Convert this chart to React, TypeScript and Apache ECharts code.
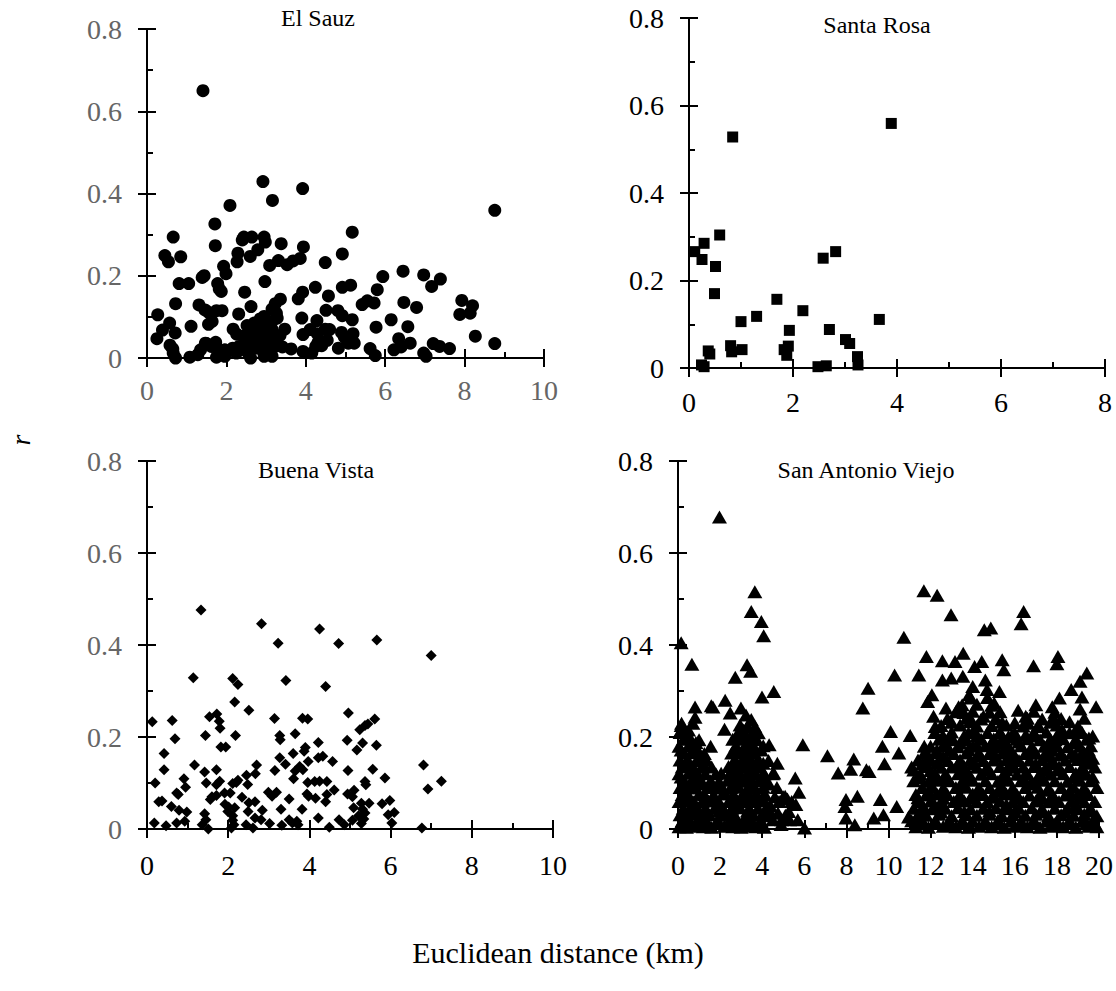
import { useEffect, useRef } from "react";
import * as echarts from "echarts";

type Pt = [number, number];

// Pairwise relatedness (r) against Euclidean distance (km), one list per site.
const elSauz: Pt[] = [
  [1.41,0.650],[2.92,0.429],[3.92,0.412],[3.16,0.383],[2.09,0.371],[8.76,0.359],[1.71,0.326],[5.17,0.306],
  [0.66,0.294],[2.44,0.294],[2.64,0.294],[2.95,0.294],[2.98,0.282],[3.38,0.278],[1.72,0.273],[2.40,0.287],
  [2.79,0.263],[3.94,0.270],[2.60,0.247],[2.29,0.255],[4.92,0.253],[0.45,0.249],[0.54,0.234],[0.85,0.246],
  [2.27,0.234],[3.86,0.242],[3.68,0.236],[3.53,0.227],[3.31,0.237],[3.09,0.225],[4.49,0.232],[1.93,0.223],
  [1.99,0.205],[1.39,0.196],[1.44,0.200],[6.45,0.211],[6.97,0.202],[7.39,0.192],[5.94,0.198],[7.17,0.174],
  [0.81,0.181],[1.05,0.181],[2.97,0.186],[1.78,0.181],[1.82,0.168],[1.87,0.162],[4.24,0.172],[4.92,0.172],
  [5.13,0.177],[5.80,0.166],[3.92,0.160],[3.81,0.144],[2.46,0.160],[4.57,0.151],[3.36,0.143],[7.93,0.140],
  [5.55,0.139],[5.42,0.130],[5.72,0.134],[6.47,0.135],[6.79,0.123],[8.20,0.127],[0.72,0.132],[1.31,0.129],
  [1.46,0.117],[1.55,0.111],[1.75,0.115],[1.89,0.115],[2.62,0.125],[3.23,0.132],[3.15,0.119],[4.51,0.116],
  [4.81,0.115],[4.92,0.103],[0.27,0.105],[2.31,0.107],[7.88,0.106],[8.14,0.109],[3.90,0.097],[5.17,0.093],
  [6.15,0.093],[4.28,0.091],[3.28,0.097],[2.95,0.101],[1.64,0.089],[0.57,0.085],[1.55,0.082],[1.11,0.077],
  [6.57,0.076],[5.77,0.075],[3.47,0.070],[2.17,0.070],[2.52,0.079],[0.39,0.068],[0.71,0.061],[4.49,0.070],
  [4.60,0.069],[4.11,0.069],[4.29,0.059],[3.93,0.057],[4.90,0.062],[5.19,0.059],[8.27,0.053],[4.97,0.051],
  [0.25,0.047],[2.26,0.058],[2.61,0.065],[2.85,0.061],[3.01,0.053],[3.15,0.069],[2.77,0.073],[4.54,0.043],
  [6.34,0.047],[6.63,0.036],[8.76,0.035],[0.58,0.031],[7.21,0.035],[7.37,0.028],[7.62,0.023],[5.62,0.023],
  [6.22,0.020],[6.97,0.012],[7.03,0.004],[5.75,0.006],[6.40,0.027],[3.93,0.016],[4.15,0.012],[4.25,0.028],
  [4.31,0.038],[4.82,0.024],[5.07,0.036],[5.22,0.036],[3.41,0.027],[3.63,0.022],[3.10,0.016],[3.23,0.028],
  [2.92,0.036],[2.79,0.024],[2.61,0.000],[2.52,0.015],[2.32,0.028],[2.16,0.024],[1.96,0.004],[1.75,0.002],
  [1.73,0.038],[1.62,0.028],[1.47,0.036],[1.35,0.020],[1.28,0.008],[1.08,0.002],[0.72,0.000],[0.66,0.012],
  [0.65,0.022],[1.85,0.019],[1.96,0.020],[2.47,0.036],[2.61,0.036],[3.01,0.012],[2.95,0.004],[3.15,0.004],
  [2.25,0.012],[3.01,0.028],[3.11,0.040],[2.88,0.046],[2.80,0.058],[2.72,0.049],[2.43,0.053],[3.19,0.049],
  [3.15,0.089],[3.01,0.081],[3.26,0.109],[2.70,0.085],[2.85,0.095],[3.05,0.065],[2.55,0.045],[3.35,0.055],
  [5.05,0.045],[4.40,0.030],[1.50,0.035]
];

const santaRosa: Pt[] = [
  [0.84,0.528],[3.89,0.559],[0.59,0.304],[0.29,0.285],[0.11,0.266],[0.25,0.248],[0.51,0.232],[0.49,0.170],
  [2.58,0.251],[2.82,0.266],[1.69,0.157],[2.19,0.131],[1.30,0.118],[1.00,0.106],[3.66,0.111],[1.93,0.086],
  [2.70,0.088],[3.01,0.065],[3.09,0.056],[0.80,0.051],[0.82,0.037],[1.02,0.042],[0.37,0.039],[0.40,0.032],
  [1.83,0.042],[1.91,0.050],[1.88,0.029],[3.24,0.026],[3.25,0.007],[0.24,0.007],[0.29,0.003],[2.48,0.003],
  [2.64,0.005]
];

const buenaVista: Pt[] = [
  [1.33,0.476],[2.82,0.446],[4.25,0.435],[3.23,0.404],[4.72,0.403],[5.66,0.411],[7.00,0.377],[1.14,0.329],
  [2.11,0.327],[2.24,0.314],[3.42,0.323],[4.40,0.310],[2.16,0.276],[2.51,0.258],[0.13,0.233],[0.62,0.236],
  [1.54,0.244],[1.72,0.250],[1.78,0.234],[1.80,0.219],[3.14,0.240],[3.83,0.241],[3.96,0.239],[4.96,0.252],
  [5.61,0.239],[5.24,0.216],[5.37,0.225],[5.44,0.228],[0.69,0.196],[1.44,0.203],[2.18,0.203],[1.82,0.178],
  [1.94,0.178],[3.27,0.203],[3.28,0.194],[3.65,0.207],[4.22,0.188],[3.90,0.177],[3.87,0.169],[4.93,0.193],
  [5.31,0.187],[5.65,0.182],[5.17,0.172],[0.42,0.164],[3.60,0.164],[3.27,0.155],[4.22,0.155],[4.33,0.158],
  [3.97,0.147],[4.57,0.147],[1.17,0.139],[2.70,0.139],[6.81,0.139],[3.41,0.141],[3.76,0.136],[3.84,0.129],
  [3.65,0.126],[0.42,0.129],[1.71,0.129],[1.42,0.124],[3.15,0.127],[4.95,0.127],[5.56,0.130],[2.45,0.117],
  [2.67,0.120],[0.91,0.109],[3.61,0.109],[5.86,0.111],[0.20,0.100],[1.46,0.100],[1.79,0.104],[2.20,0.101],
  [2.24,0.106],[2.48,0.097],[3.96,0.101],[4.13,0.103],[4.25,0.104],[4.43,0.103],[5.37,0.103],[7.25,0.104],
  [0.95,0.091],[1.71,0.096],[5.39,0.096],[2.11,0.099],[6.92,0.087],[4.61,0.085],[5.10,0.084],[0.73,0.078],
  [0.77,0.075],[1.91,0.078],[2.05,0.078],[2.99,0.080],[3.19,0.080],[3.08,0.071],[3.94,0.076],[3.98,0.071],
  [4.94,0.076],[5.06,0.070],[4.43,0.075],[1.71,0.073],[1.60,0.070],[1.56,0.064],[2.34,0.069],[4.15,0.067],
  [0.29,0.059],[0.37,0.061],[3.50,0.065],[4.40,0.059],[5.98,0.062],[2.51,0.057],[2.66,0.059],[5.28,0.056],
  [5.47,0.056],[5.79,0.055],[1.92,0.054],[2.01,0.048],[2.16,0.046],[0.60,0.049],[3.30,0.043],[3.82,0.043],
  [5.09,0.046],[5.31,0.043],[0.79,0.041],[0.98,0.037],[2.49,0.038],[2.84,0.041],[1.99,0.038],[6.09,0.036],
  [5.94,0.031],[5.37,0.035],[5.21,0.029],[1.42,0.033],[2.11,0.029],[2.66,0.024],[4.22,0.024],[2.81,0.020],
  [4.73,0.020],[5.06,0.019],[5.34,0.022],[1.45,0.020],[2.11,0.019],[3.50,0.020],[3.69,0.017],[0.73,0.013],
  [0.93,0.017],[0.18,0.013],[0.47,0.007],[1.36,0.009],[2.14,0.009],[2.44,0.009],[3.02,0.012],[3.32,0.008],
  [3.58,0.013],[3.72,0.009],[4.86,0.009],[5.28,0.012],[6.03,0.013],[1.51,0.000],[2.08,0.002],[2.61,0.002],
  [4.49,0.004],[6.77,0.002]
];

// San Antonio Viejo: isolated pairs and the upper edge of both clusters
const sanAntonioSparse: Pt[] = [
  [1.97,0.678],[0.15,0.405],[0.66,0.358],[3.65,0.516],[3.48,0.473],[3.96,0.451],[4.07,0.420],[3.28,0.357],
  [3.45,0.343],[2.72,0.330],[4.55,0.299],[3.99,0.287],[11.68,0.518],[12.31,0.508],[12.97,0.466],[10.73,0.417],
  [14.55,0.433],[14.86,0.437],[16.42,0.473],[16.30,0.446],[10.29,0.335],[9.03,0.306],[8.78,0.263],[11.44,0.335],
  [11.80,0.375],[12.56,0.366],[13.16,0.364],[13.55,0.382],[12.56,0.324],[12.98,0.328],[13.53,0.332],[14.09,0.353],
  [14.43,0.364],[15.40,0.368],[15.48,0.346],[16.89,0.355],[18.05,0.375],[18.00,0.359],[19.42,0.339],[19.10,0.321],
  [18.68,0.303],[19.19,0.287],[18.12,0.285],[19.86,0.266],[19.10,0.261],[16.16,0.258],[17.78,0.266],[14.00,0.310],
  [15.27,0.299],[12.06,0.292],[11.86,0.277],[12.73,0.263],[13.33,0.266],[13.83,0.292],[14.60,0.324],[14.68,0.303],
  [15.02,0.274],[12.14,0.245],[12.22,0.223],[13.58,0.253],[13.92,0.238],[14.06,0.216],[14.51,0.245],[16.52,0.245],
  [16.64,0.230],[17.15,0.223],[17.83,0.241],[18.25,0.216],[17.91,0.194],[19.00,0.216],[19.52,0.198],[15.29,0.209],
  [15.87,0.205],[16.52,0.205],[10.10,0.212],[11.03,0.203],[12.56,0.201],[13.07,0.194],[13.67,0.194],[14.18,0.183],
  [9.71,0.180],[10.49,0.165],[11.70,0.180],[14.86,0.169],[15.54,0.172],[16.81,0.165],[17.46,0.165],[18.17,0.161],
  [18.85,0.158],[19.19,0.165],[19.70,0.154],[9.81,0.142],[8.35,0.152],[7.10,0.159],[5.93,0.183],[7.61,0.122],
  [8.20,0.130],[8.95,0.129],[9.08,0.125],[8.52,0.071],[7.98,0.064],[7.93,0.049],[7.98,0.024],[8.40,0.009],
  [9.30,0.024],[9.61,0.064],[9.76,0.031],[10.39,0.049],[10.95,0.026],[5.57,0.111],[5.74,0.080],[5.60,0.053],
  [5.69,0.020],[6.01,0.002],[5.26,0.038],[4.92,0.020],[4.75,0.035],[5.09,0.071],[4.72,0.143],[4.55,0.122],
  [4.33,0.183],[3.82,0.209],[2.24,0.280],[2.48,0.252],[2.21,0.217],[1.58,0.268],[1.66,0.265],[0.81,0.265],
  [0.81,0.243],[0.71,0.230],[0.17,0.230],[0.10,0.212],[2.99,0.263],[3.23,0.248],[3.48,0.238],[3.65,0.223],
  [4.40,0.050],[4.60,0.070],[4.80,0.060],[5.00,0.070],[5.20,0.065],[5.40,0.060],[4.50,0.020],[4.90,0.010],
  [5.10,0.030],[4.30,0.100],[4.50,0.120],[4.70,0.090],[5.30,0.020],[4.40,0.035]
];

// San Antonio Viejo: dense block of pairs closer than about 4.3 km
const sanAntonioNear: Pt[] = [
  [0.05,0.005],[0.40,0.004],[0.70,0.006],[1.20,0.005],[1.60,0.004],[2.20,0.006],[2.60,0.005],[3.00,0.004],[3.30,0.006],[3.70,0.005],[4.10,0.004],
  [0.20,0.018],[0.55,0.019],[0.95,0.017],[1.35,0.018],[1.90,0.019],[2.45,0.017],[2.85,0.018],[3.15,0.019],[3.50,0.017],[3.95,0.018],
  [0.10,0.031],[0.35,0.030],[0.80,0.032],[1.10,0.029],[1.50,0.031],[2.00,0.030],[2.30,0.032],[2.70,0.029],[3.25,0.031],[3.60,0.030],[4.00,0.032],[4.30,0.029],
  [0.25,0.045],[0.60,0.046],[0.90,0.044],[1.30,0.045],[1.75,0.046],[2.15,0.044],[2.55,0.045],[2.95,0.046],[3.40,0.044],[3.80,0.045],[4.20,0.046],
  [0.05,0.060],[0.45,0.061],[0.75,0.059],[1.15,0.060],[1.45,0.061],[1.95,0.059],[2.40,0.060],[2.80,0.061],[3.10,0.059],[3.55,0.060],[3.90,0.061],
  [0.20,0.075],[0.50,0.074],[1.00,0.076],[1.25,0.075],[1.70,0.074],[2.25,0.076],[2.65,0.075],[3.05,0.074],[3.35,0.076],[3.75,0.075],[4.15,0.074],
  [0.10,0.090],[0.40,0.091],[0.85,0.089],[1.40,0.090],[1.85,0.091],[2.10,0.089],[2.50,0.090],[2.90,0.091],[3.30,0.089],[3.65,0.090],[4.05,0.091],
  [0.30,0.105],[0.65,0.104],[1.05,0.106],[1.55,0.105],[1.95,0.104],[2.35,0.106],[2.75,0.105],[3.15,0.104],[3.50,0.106],[3.85,0.105],
  [0.05,0.120],[0.50,0.121],[0.95,0.119],[1.30,0.120],[2.05,0.121],[2.60,0.119],[2.95,0.120],[3.40,0.121],[3.70,0.119],[4.10,0.120],
  [0.20,0.135],[0.70,0.136],[1.15,0.134],[1.60,0.135],[2.40,0.136],[2.85,0.134],[3.20,0.135],[3.55,0.136],[3.90,0.134],
  [0.10,0.150],[0.45,0.151],[0.90,0.149],[1.35,0.150],[2.70,0.151],[3.05,0.149],[3.45,0.150],[3.80,0.151],[4.30,0.149],
  [0.30,0.165],[0.65,0.166],[1.25,0.164],[2.55,0.165],[2.95,0.166],[3.30,0.164],[3.65,0.165],
  [0.05,0.180],[0.50,0.181],[0.80,0.179],[1.55,0.180],[2.75,0.181],[3.15,0.179],[3.60,0.180],[4.05,0.181],
  [0.25,0.195],[0.60,0.196],[1.00,0.194],[3.00,0.195],[3.40,0.196],[3.75,0.194],
  [0.10,0.210],[0.35,0.211],[2.90,0.209],[3.55,0.210],
  [0.15,0.225],[2.95,0.226],[3.30,0.224],
  [0.55,0.012],[1.45,0.010],[2.35,0.011],[3.45,0.012],[0.85,0.052],[1.95,0.040],[2.75,0.050],[3.60,0.068],
  [0.30,0.082],[1.20,0.098],[2.20,0.082],[3.20,0.112],[0.60,0.128],[1.80,0.120],[2.55,0.128],[3.75,0.142],
  [0.35,0.142],[1.00,0.158],[3.20,0.158],[0.85,0.188],[3.35,0.188],[2.60,0.195],[3.10,0.215],[0.50,0.215],
  [0.25,0.012],[0.85,0.013],[1.80,0.012],[2.90,0.011],[3.85,0.012],[0.50,0.038],[1.30,0.037],[2.50,0.038],
  [3.30,0.039],[4.10,0.038],[0.30,0.068],[1.60,0.067],[2.55,0.068],[3.25,0.069],[4.00,0.068],[0.55,0.098],
  [1.65,0.097],[2.70,0.098],[3.50,0.099],[4.20,0.098],[0.15,0.113],[0.85,0.112],[2.50,0.113],[3.00,0.114],
  [3.95,0.113],[0.55,0.143],[1.20,0.142],[2.60,0.143],[3.30,0.144],[4.05,0.143],[0.15,0.172],[0.95,0.171],
  [2.80,0.172],[3.45,0.173],[3.95,0.172],[0.45,0.200],[2.75,0.201],[3.20,0.202],[3.60,0.200]
];

// San Antonio Viejo: dense block of pairs between about 11 and 20 km
const sanAntonioFar: Pt[] = [
  [11.3,0.005],[11.9,0.004],[12.6,0.006],[13.2,0.005],[13.8,0.004],[14.3,0.006],[14.9,0.005],[15.5,0.004],[16.0,0.006],[16.6,0.005],[17.2,0.004],[17.7,0.006],[18.3,0.005],[18.9,0.004],[19.5,0.006],[19.9,0.005],
  [11.1,0.018],[11.6,0.019],[12.2,0.017],[12.9,0.018],[13.5,0.019],[14.0,0.017],[14.6,0.018],[15.2,0.019],[15.8,0.017],[16.3,0.018],[16.9,0.019],[17.5,0.017],[18.0,0.018],[18.6,0.019],[19.2,0.017],[19.7,0.018],
  [11.4,0.031],[11.8,0.030],[12.4,0.032],[13.0,0.029],[13.7,0.031],[14.2,0.030],[14.8,0.032],[15.4,0.029],[15.9,0.031],[16.5,0.030],[17.0,0.032],[17.6,0.029],[18.2,0.031],[18.8,0.030],[19.3,0.032],[19.9,0.029],
  [11.2,0.045],[11.7,0.046],[12.1,0.044],[12.7,0.045],[13.3,0.046],[13.9,0.044],[14.5,0.045],[15.1,0.046],[15.6,0.044],[16.2,0.045],[16.8,0.046],[17.3,0.044],[17.9,0.045],[18.5,0.046],[19.0,0.044],[19.6,0.045],
  [11.5,0.060],[12.0,0.061],[12.5,0.059],[13.1,0.060],[13.6,0.061],[14.2,0.059],[14.7,0.060],[15.3,0.061],[15.9,0.059],[16.4,0.060],[17.0,0.061],[17.6,0.059],[18.1,0.060],[18.7,0.061],[19.3,0.059],[19.8,0.060],
  [11.3,0.075],[11.8,0.074],[12.3,0.076],[12.8,0.075],[13.4,0.074],[14.0,0.076],[14.5,0.075],[15.0,0.074],[15.6,0.076],[16.1,0.075],[16.7,0.074],[17.2,0.076],[17.8,0.075],[18.4,0.074],[19.0,0.076],[19.5,0.075],
  [11.6,0.090],[12.1,0.091],[12.6,0.089],[13.2,0.090],[13.7,0.091],[14.3,0.089],[14.8,0.090],[15.4,0.091],[15.9,0.089],[16.5,0.090],[17.1,0.091],[17.6,0.089],[18.2,0.090],[18.8,0.091],[19.3,0.089],[19.9,0.090],
  [11.2,0.105],[11.9,0.104],[12.4,0.106],[12.9,0.105],[13.5,0.104],[14.0,0.106],[14.6,0.105],[15.2,0.104],[15.7,0.106],[16.3,0.105],[16.8,0.104],[17.4,0.106],[17.9,0.105],[18.5,0.104],[19.1,0.106],[19.6,0.105],
  [11.5,0.120],[12.2,0.121],[12.7,0.119],[13.3,0.120],[13.8,0.121],[14.4,0.119],[14.9,0.120],[15.5,0.121],[16.1,0.119],[16.6,0.120],[17.2,0.121],[17.7,0.119],[18.3,0.120],[18.9,0.121],[19.4,0.119],
  [11.1,0.135],[11.8,0.136],[12.5,0.134],[13.0,0.135],[13.6,0.136],[14.2,0.134],[14.7,0.135],[15.3,0.136],[15.8,0.134],[16.4,0.135],[16.9,0.136],[17.5,0.134],[18.1,0.135],[18.6,0.136],[19.2,0.134],[19.8,0.135],
  [11.4,0.150],[12.0,0.151],[12.8,0.149],[13.4,0.150],[13.9,0.151],[14.5,0.149],[15.0,0.150],[15.6,0.151],[16.2,0.149],[16.7,0.150],[17.3,0.151],[17.8,0.149],[18.4,0.150],[19.0,0.151],[19.5,0.149],
  [11.7,0.165],[12.3,0.166],[13.1,0.164],[13.7,0.165],[14.3,0.166],[14.8,0.164],[15.4,0.165],[15.9,0.166],[16.5,0.164],[17.0,0.165],[17.6,0.166],[18.2,0.164],[18.7,0.165],[19.3,0.166],
  [12.0,0.180],[12.6,0.181],[13.3,0.179],[14.0,0.180],[14.6,0.181],[15.1,0.179],[15.7,0.180],[16.3,0.181],[16.8,0.179],[17.4,0.180],[18.0,0.181],[18.5,0.179],[19.1,0.180],[19.6,0.181],
  [12.4,0.195],[12.9,0.196],[13.6,0.194],[14.4,0.195],[15.0,0.196],[15.5,0.194],[16.1,0.195],[16.6,0.196],[17.2,0.194],[17.7,0.195],[18.3,0.196],[18.9,0.194],[19.4,0.195],
  [12.2,0.210],[13.0,0.211],[13.8,0.209],[14.7,0.210],[15.3,0.211],[16.0,0.209],[16.9,0.210],[17.5,0.211],[18.6,0.209],[19.2,0.210],
  [12.5,0.225],[13.4,0.226],[14.2,0.224],[14.9,0.225],[15.6,0.226],[16.4,0.224],[17.1,0.225],[18.0,0.226],[19.0,0.224],
  [12.8,0.240],[13.7,0.241],[14.4,0.239],[15.1,0.240],[16.6,0.241],[17.3,0.239],[18.2,0.240],[19.3,0.241],
  [13.2,0.255],[14.0,0.256],[14.8,0.254],[15.3,0.255],[16.9,0.256],[17.9,0.254],
  [13.5,0.270],[14.2,0.271],[14.9,0.269],[17.0,0.270],
  [13.9,0.285],[14.7,0.286],
  [11.6,0.011],[12.9,0.010],[14.6,0.011],[16.3,0.010],[17.9,0.011],[19.4,0.012],[12.2,0.052],[13.9,0.068],
  [15.6,0.053],[17.3,0.067],[18.9,0.052],[11.9,0.083],[13.5,0.097],[15.2,0.083],[16.9,0.098],[18.6,0.082],
  [12.8,0.112],[14.6,0.128],[16.4,0.112],[18.1,0.128],[19.7,0.113],[13.3,0.142],[15.1,0.158],[17.0,0.142],
  [18.9,0.158],[12.9,0.172],[14.9,0.188],[16.9,0.172],[18.8,0.188],
  [11.3,0.012],[12.3,0.013],[13.5,0.012],[15.3,0.011],[17.0,0.012],[18.6,0.013],[19.8,0.012],[11.5,0.038],
  [12.5,0.037],[13.6,0.038],[14.8,0.039],[16.0,0.038],[17.2,0.037],[18.4,0.038],[19.5,0.039],[11.4,0.068],
  [12.6,0.067],[13.3,0.068],[14.9,0.069],[16.2,0.068],[17.8,0.067],[19.1,0.068],[12.6,0.083],[14.2,0.082],
  [15.9,0.083],[17.6,0.084],[19.2,0.083],[11.5,0.112],[12.2,0.113],[13.7,0.112],[15.4,0.111],[17.1,0.112],
  [18.8,0.113],[11.2,0.128],[12.0,0.127],[13.5,0.128],[15.6,0.129],[17.4,0.128],[19.2,0.127],[11.6,0.142],
  [12.3,0.143],[14.0,0.142],[15.9,0.141],[17.7,0.142],[19.6,0.143],[11.9,0.158],[12.6,0.157],[14.2,0.158],
  [16.0,0.159],[17.6,0.158],[19.3,0.157],[12.3,0.172],[13.8,0.173],[15.6,0.172],[17.8,0.171],[19.5,0.172],
  [12.7,0.188],[13.4,0.187],[15.3,0.188],[16.2,0.189],[17.6,0.188],[19.0,0.187],[12.6,0.202],[13.6,0.203],
  [14.2,0.202],[15.7,0.201],[17.0,0.202],[18.0,0.203],[19.7,0.202],[13.0,0.232],[13.9,0.233],[15.4,0.232],
  [16.0,0.231],[17.7,0.232],[18.6,0.233]
];

const siteNames = ["El Sauz", "Santa Rosa", "Buena Vista", "San Antonio Viejo"];
const xMaxima = [10, 8, 10, 20];
const yMax = 0.8;

const FONT = "'Liberation Serif', 'Times New Roman', serif";
const GREY = "#666666";

const grids = [
  { left: 147, top: 29, width: 397, height: 329 },
  { left: 689, top: 18, width: 416, height: 350 },
  { left: 147, top: 461, width: 406, height: 368 },
  { left: 678, top: 461, width: 421, height: 368 },
];
const titlePos = [
  [318, 18],
  [877, 25],
  [316, 470],
  [866, 470],
];
const xLabelMargins = [18, 20, 22, 22];
const xLabelColors = [GREY, "#000", "#000", "#000"];
const yLabelColors = [GREY, "#000", GREY, "#000"];
const markers = [
  { symbol: "circle", size: 13 },
  { symbol: "rect", size: 11 },
  { symbol: "diamond", size: 11 },
  { symbol: "triangle", size: [15, 13] },
];

export default function App() {
  const ref = useRef<HTMLDivElement>(null);

  useEffect(() => {
    if (!ref.current) return;
    const chart = echarts.init(ref.current, undefined, { renderer: "svg" });
    const line = { color: "#000", width: 2 };
    const fmtY = (v: number) => String(Math.round(v * 10) / 10);
    const siteData = [
      elSauz,
      santaRosa,
      buenaVista,
      [...sanAntonioNear, ...sanAntonioFar, ...sanAntonioSparse],
    ];

    const xAxis: any[] = [];
    const yAxis: any[] = [];
    const series: any[] = [];
    const graphic: any[] = [];

    grids.forEach((_, i) => {
      // main axis: line, labels and outward half of the major ticks
      xAxis.push({
        type: "value", gridIndex: i, position: "bottom", min: 0, max: xMaxima[i], interval: 2,
        axisLine: { show: true, onZero: false, lineStyle: line },
        axisTick: { show: true, length: 9, lineStyle: line },
        axisLabel: { color: xLabelColors[i], fontFamily: FONT, fontSize: 28, margin: xLabelMargins[i] },
        splitLine: { show: false },
      });
      // companion axis: inward half of the major ticks plus inward minor ticks
      xAxis.push({
        type: "value", gridIndex: i, position: "bottom", min: 0, max: xMaxima[i], interval: 2,
        axisLine: { show: false },
        axisTick: { show: true, inside: true, length: 9, lineStyle: line },
        minorTick: { show: true, splitNumber: 2, length: 6, lineStyle: line },
        axisLabel: { show: false },
        splitLine: { show: false },
      });
      yAxis.push({
        type: "value", gridIndex: i, position: "left", min: 0, max: yMax, interval: 0.2,
        axisLine: { show: true, onZero: false, lineStyle: line },
        axisTick: { show: true, length: 9, lineStyle: line },
        axisLabel: { color: yLabelColors[i], fontFamily: FONT, fontSize: 28, margin: 25, formatter: fmtY },
        splitLine: { show: false },
      });
      yAxis.push({
        type: "value", gridIndex: i, position: "left", min: 0, max: yMax, interval: 0.2,
        axisLine: { show: false },
        axisTick: { show: true, inside: true, length: 9, lineStyle: line },
        minorTick: { show: true, splitNumber: 2, length: 6, lineStyle: line },
        axisLabel: { show: false },
        splitLine: { show: false },
      });
      series.push({
        type: "scatter",
        name: siteNames[i],
        xAxisIndex: 2 * i,
        yAxisIndex: 2 * i,
        data: siteData[i],
        symbol: markers[i].symbol,
        symbolSize: markers[i].size,
        itemStyle: { color: "#000", opacity: 1 },
        clip: false,
        silent: true,
      });
      graphic.push({
        type: "text",
        x: titlePos[i][0],
        y: titlePos[i][1],
        style: {
          text: siteNames[i], fill: "#000", font: `24px ${FONT}`,
          textAlign: "center", textVerticalAlign: "middle",
        },
      });
    });

    graphic.push({
      type: "text", x: 20, y: 440, rotation: Math.PI / 2,
      style: { text: "r", fill: "#000", font: `italic 28px ${FONT}`, textAlign: "center", textVerticalAlign: "middle" },
    });
    graphic.push({
      type: "text", x: 558, y: 952,
      style: { text: "Euclidean distance (km)", fill: "#000", font: `30px ${FONT}`, textAlign: "center", textVerticalAlign: "middle" },
    });

    chart.setOption({
      animation: false,
      backgroundColor: "#fff",
      grid: grids.map((g) => ({ ...g, containLabel: false })),
      xAxis,
      yAxis,
      series,
      graphic,
    });
    return () => chart.dispose();
  }, []);

  return (
    <div
      ref={ref}
      style={{ position: "fixed", left: 0, top: 0, width: 1116, height: 991, background: "#fff" }}
    />
  );
}
